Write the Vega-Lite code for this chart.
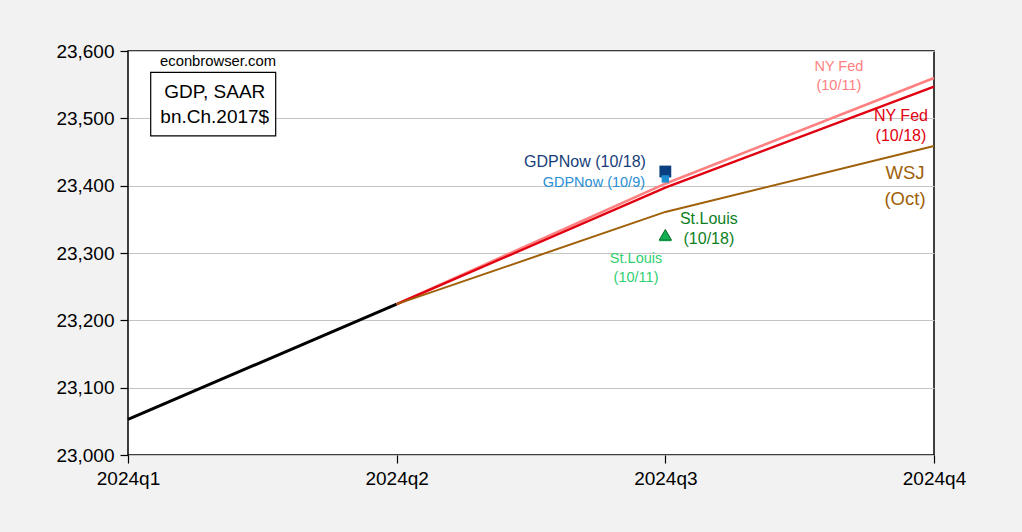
{
  "$schema": "https://vega.github.io/schema/vega-lite/v6.json",
  "width": 806,
  "height": 404,
  "autosize": {"type": "none"},
  "padding": {"left": 128, "top": 51, "right": 88, "bottom": 77},
  "background": "#f2f2f2",
  "config": {
    "view": {"fill": "white", "stroke": "black", "strokeWidth": 1.5},
    "font": "Liberation Sans",
    "axis": {"labelFont": "Liberation Sans", "labelFontSize": 19, "labelColor": "black", "tickColor": "black", "tickWidth": 1.2, "domainColor": "black", "tickSize": 8, "title": null, "labelFlush": false}
  },
  "datasets": {
    "lines": [
      {"t": 1, "v": 23053, "series": "Actual"},
      {"t": 2, "v": 23224, "series": "Actual"},
      {"t": 2, "v": 23224, "series": "NY Fed 10/11"},
      {"t": 3, "v": 23403, "series": "NY Fed 10/11"},
      {"t": 4, "v": 23560, "series": "NY Fed 10/11"},
      {"t": 2, "v": 23224, "series": "NY Fed 10/18"},
      {"t": 3, "v": 23397, "series": "NY Fed 10/18"},
      {"t": 4, "v": 23547, "series": "NY Fed 10/18"},
      {"t": 2, "v": 23224, "series": "WSJ"},
      {"t": 3, "v": 23361, "series": "WSJ"},
      {"t": 4, "v": 23459, "series": "WSJ"}
    ],
    "points": [
      {"t": 3, "v": 23421, "series": "GDPNow 10/18"},
      {"t": 3, "v": 23410, "series": "GDPNow 10/9"},
      {"t": 3, "v": 23327, "series": "St.Louis 10/18"},
      {"t": 3, "v": 23326, "series": "St.Louis 10/11"}
    ],
    "labels": [
      {"t": 2.701, "v": 23435.6, "label": ["GDPNow (10/18)"], "series": "GDPNow 10/18", "grp": "a"},
      {"t": 2.734, "v": 23403.5, "label": ["GDPNow (10/9)"], "series": "GDPNow 10/9", "grp": "b"},
      {"t": 3.162, "v": 23350.5, "label": ["St.Louis", "(10/18)"], "series": "St.Louis 10/18", "grp": "a"},
      {"t": 2.891, "v": 23291, "label": ["St.Louis", "(10/11)"], "series": "St.Louis 10/11", "grp": "b"},
      {"t": 3.646, "v": 23576.7, "label": ["NY Fed", "(10/11)"], "series": "NY Fed 10/11", "grp": "b"},
      {"t": 3.877, "v": 23503.5, "label": ["NY Fed", "(10/18)"], "series": "NY Fed 10/18", "grp": "a"},
      {"t": 3.892, "v": 23418.8, "label": ["WSJ", "(Oct)"], "series": "WSJ", "grp": "c"}
    ],
    "box": [
      {"t": 1.0845, "t2": 1.5497, "v": 23568.4, "v2": 23473.8}
    ],
    "boxtext": [
      {"t": 1.335, "v": 23583, "label": ["econbrowser.com"], "grp": "small"},
      {"t": 1.323, "v": 23539.6, "label": ["GDP, SAAR", "bn.Ch.2017$"], "grp": "big"}
    ]
  },
  "encoding": {
    "x": {"field": "t", "type": "quantitative", "scale": {"domain": [1, 4], "nice": false, "zero": false},
      "axis": {"values": [1, 2, 3, 4], "grid": false, "labelExpr": "'2024q' + datum.value", "labelPadding": 6, "domain": false}},
    "y": {"field": "v", "type": "quantitative", "scale": {"domain": [23000, 23600], "nice": false, "zero": false},
      "axis": {"values": [23000, 23100, 23200, 23300, 23400, 23500, 23600], "grid": true, "gridColor": "#c4c4c4", "gridWidth": 1, "labelPadding": 6, "labelExpr": "format(datum.value, ',')", "domain": false}}
  },
  "layer": [
    {
      "data": {"name": "lines"},
      "mark": {"type": "line"},
      "encoding": {
        "detail": {"field": "series"},
        "color": {"field": "series", "type": "nominal", "legend": null,
          "scale": {"domain": ["Actual", "NY Fed 10/11", "NY Fed 10/18", "WSJ", "GDPNow 10/18", "GDPNow 10/9", "St.Louis 10/18", "St.Louis 10/11"],
            "range": ["#000000", "#ff8080", "#e00010", "#a0600a", "#163e7a", "#2a8fd4", "#0f7f1f", "#2fd070"]}},
        "strokeWidth": {"field": "series", "type": "nominal", "legend": null,
          "scale": {"domain": ["Actual", "NY Fed 10/11", "NY Fed 10/18", "WSJ"], "range": [3, 2, 2, 2]}}
      }
    },
    {
      "data": {"name": "points"},
      "transform": [{"filter": "datum.series == 'GDPNow 10/18'"}],
      "mark": {"type": "point", "shape": "square", "filled": true, "opacity": 1, "size": 140, "fill": "#0b3f80", "strokeWidth": 0},
      "encoding": {}
    },
    {
      "data": {"name": "points"},
      "transform": [{"filter": "datum.series == 'GDPNow 10/9'"}],
      "mark": {"type": "point", "shape": "square", "filled": true, "opacity": 1, "size": 55, "fill": "#1f8ed0", "strokeWidth": 0},
      "encoding": {}
    },
    {
      "data": {"name": "points"},
      "transform": [{"filter": "datum.series == 'St.Louis 10/11'"}],
      "mark": {"type": "point", "shape": "triangle-up", "filled": true, "opacity": 1, "size": 170, "fill": "#2fd070", "strokeWidth": 0},
      "encoding": {}
    },
    {
      "data": {"name": "points"},
      "transform": [{"filter": "datum.series == 'St.Louis 10/18'"}],
      "mark": {"type": "point", "shape": "triangle-up", "filled": true, "opacity": 1, "size": 150, "fill": "#12b052", "stroke": "#0a6a2a", "strokeWidth": 1},
      "encoding": {}
    },
    {
      "data": {"name": "labels"},
      "transform": [{"filter": "datum.grp == 'a'"}],
      "mark": {"type": "text", "fontSize": 16, "lineHeight": 20, "align": "center", "baseline": "middle"},
      "encoding": {
        "text": {"field": "label"},
        "color": {"field": "series", "type": "nominal", "legend": null}
      }
    },
    {
      "data": {"name": "labels"},
      "transform": [{"filter": "datum.grp == 'b'"}],
      "mark": {"type": "text", "fontSize": 14.5, "lineHeight": 19, "align": "center", "baseline": "middle"},
      "encoding": {
        "text": {"field": "label"},
        "color": {"field": "series", "type": "nominal", "legend": null}
      }
    },
    {
      "data": {"name": "labels"},
      "transform": [{"filter": "datum.grp == 'c'"}],
      "mark": {"type": "text", "fontSize": 18.5, "lineHeight": 26, "align": "center", "baseline": "middle"},
      "encoding": {
        "text": {"field": "label"},
        "color": {"field": "series", "type": "nominal", "legend": null}
      }
    },
    {
      "data": {"name": "box"},
      "mark": {"type": "rect", "fill": "white", "stroke": "black", "strokeWidth": 1.2},
      "encoding": {
        "x2": {"field": "t2"},
        "y2": {"field": "v2"}
      }
    },
    {
      "data": {"name": "boxtext"},
      "transform": [{"filter": "datum.grp == 'small'"}],
      "mark": {"type": "text", "fontSize": 14.8, "align": "center", "baseline": "middle", "color": "black"},
      "encoding": {"text": {"field": "label"}}
    },
    {
      "data": {"name": "boxtext"},
      "transform": [{"filter": "datum.grp == 'big'"}],
      "mark": {"type": "text", "fontSize": 19, "lineHeight": 25, "align": "center", "baseline": "middle", "color": "black"},
      "encoding": {"text": {"field": "label"}}
    }
  ]
}
